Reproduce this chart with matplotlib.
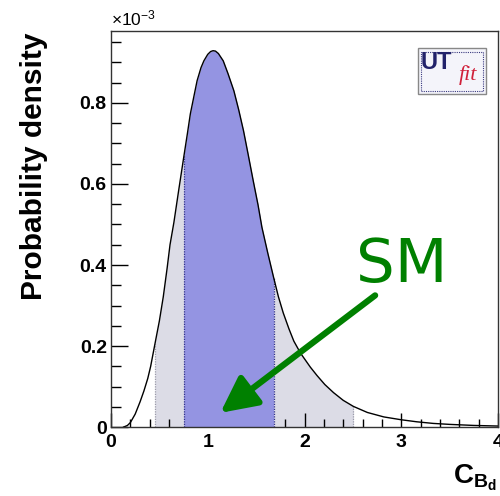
import matplotlib
matplotlib.use("Agg")
import matplotlib.pyplot as plt
import numpy as np
from matplotlib.patches import Rectangle
from matplotlib.ticker import MultipleLocator

plt.rcParams['font.family'] = ['Liberation Sans', 'DejaVu Sans']
plt.rcParams['mathtext.fontset'] = 'custom'
plt.rcParams['mathtext.rm'] = 'Liberation Sans'
plt.rcParams['mathtext.bf'] = 'Liberation Sans:bold'
plt.rcParams['mathtext.it'] = 'Liberation Sans:italic'

# Curve (x: C_Bd, y: density in units of 1e-3)
cbd = [0.13, 0.17, 0.20, 0.25, 0.30, 0.34, 0.38, 0.41, 0.454, 0.50, 0.54, 0.58, 0.61,
       0.65, 0.70, 0.753, 0.79, 0.82, 0.86, 0.89, 0.93, 0.96, 1.00, 1.03, 1.055,
       1.08, 1.11, 1.16, 1.21, 1.27, 1.32, 1.37, 1.42, 1.47, 1.52, 1.56, 1.62,
       1.68, 1.73, 1.78, 1.84, 1.89, 1.96, 2.06, 2.13, 2.21, 2.30, 2.40, 2.505,
       2.65, 2.82, 3.00, 3.16, 3.33, 3.50, 3.75, 4.00]
dens = [0.000, 0.004, 0.011, 0.032, 0.062, 0.089, 0.120, 0.150, 0.205, 0.262,
        0.321, 0.392, 0.450, 0.505, 0.585, 0.668, 0.725, 0.773, 0.820, 0.855,
        0.887, 0.904, 0.920, 0.927, 0.929, 0.928, 0.922, 0.904, 0.872, 0.830,
        0.783, 0.731, 0.670, 0.608, 0.548, 0.493, 0.430, 0.370, 0.322, 0.282,
        0.242, 0.212, 0.182, 0.148, 0.127, 0.105, 0.085, 0.066, 0.051, 0.036,
        0.025, 0.018, 0.013, 0.009, 0.0066, 0.0040, 0.0025]

# Credible intervals
range95 = (0.454, 2.505)
range68 = (0.753, 1.68)

# Arrow (SM value indication)
arrow_start = (2.73, 0.325)
arrow_tip = (1.13, 0.035)

x = np.array(cbd)
y = np.array(dens)

fig = plt.figure(figsize=(5.0, 4.96), dpi=100)
ax = fig.add_axes([0.222, 0.139, 0.774, 0.798])

m95 = (x >= range95[0]) & (x <= range95[1])
m68 = (x >= range68[0]) & (x <= range68[1])
ax.fill_between(x, 0, y, where=m95, color='#dcdce6', lw=0, zorder=1)
ax.fill_between(x, 0, y, where=m68, color='#9494e2', lw=0, zorder=2)
for xv in range95:
    ax.vlines(xv, 0, np.interp(xv, x, y), colors='#9a9aa8', linestyles=(0, (1, 1)), lw=0.9, zorder=3)
for xv in range68:
    ax.vlines(xv, 0, np.interp(xv, x, y), colors='#30308a', linestyles=(0, (1, 1)), lw=0.9, zorder=3)
ax.plot(x, y, color='black', lw=1.0, zorder=4)

ax.set_xlim(0, 4)
ax.set_ylim(0, 0.977)

ax.xaxis.set_major_locator(MultipleLocator(1))
ax.xaxis.set_minor_locator(MultipleLocator(0.2))
ax.yaxis.set_major_locator(MultipleLocator(0.2))
ax.yaxis.set_minor_locator(MultipleLocator(0.05))
ax.tick_params(which='both', direction='in', top=False, right=False, colors='black',
               width=1.0, zorder=6)
ax.tick_params(axis='x', which='major', length=10, pad=5)
ax.tick_params(axis='x', which='minor', length=6)
ax.tick_params(axis='y', which='major', length=12, pad=3)
ax.tick_params(axis='y', which='minor', length=7)
ax.set_xticks([0, 1, 2, 3, 4])
ax.set_xticklabels(['0', '1', '2', '3', '4'])
ax.set_yticks([0, 0.2, 0.4, 0.6, 0.8])
ax.set_yticklabels(['0', '0.2', '0.4', '0.6', '0.8'])
for lab in ax.get_xticklabels() + ax.get_yticklabels():
    lab.set_fontsize(14)
    lab.set_fontweight('bold')
for sp in ax.spines.values():
    sp.set_color('#333333')
    sp.set_linewidth(1.0)
    sp.set_zorder(7)

fig.text(0.222, 0.942, r'$\times$10$^{-3}$', fontsize=12.5, ha='left', va='bottom')

fig.text(0.068, 0.665, 'Probability density', rotation=90, fontsize=21.5,
         fontweight='bold', ha='center', va='center')
fig.text(0.993, 0.006, r'$\mathbf{C}_{\mathbf{B}_{\mathbf{d}}}$', fontsize=20,
         ha='right', va='bottom')

# Arrow
ax.annotate('', xy=arrow_tip, xytext=arrow_start,
            arrowprops=dict(arrowstyle='-|>,head_length=2.2,head_width=1.1',
                            color='#008000', lw=4.5, shrinkA=0, shrinkB=0),
            zorder=8)
ax.text(3.0, 0.40, 'SM', color='#008000', fontsize=44, ha='center', va='center',
        family=['DejaVu Sans'], zorder=8)

# UTfit logo
lx0, ly0, lw_, lh_ = 0.836, 0.81, 0.136, 0.093
fig.patches.append(Rectangle((lx0, ly0), lw_, lh_, transform=fig.transFigure,
                             facecolor='#f4f4fa', edgecolor='#888888', lw=1.0))
fig.patches.append(Rectangle((lx0 + 0.006, ly0 + 0.007), lw_ - 0.012, lh_ - 0.014,
                             transform=fig.transFigure, facecolor='none',
                             edgecolor='#3a3a80', lw=0.8, ls=(0, (1, 1))))
fig.text(0.872, 0.873, 'UT', fontsize=17, color='#22226a', fontweight='bold',
         ha='center', va='center', family=['Liberation Sans'])
fig.text(0.935, 0.848, 'fit', fontsize=16, color='#d0203a',
         ha='center', va='center', style='italic', family=['Liberation Serif'])

fig.savefig('out.png', dpi=100)
